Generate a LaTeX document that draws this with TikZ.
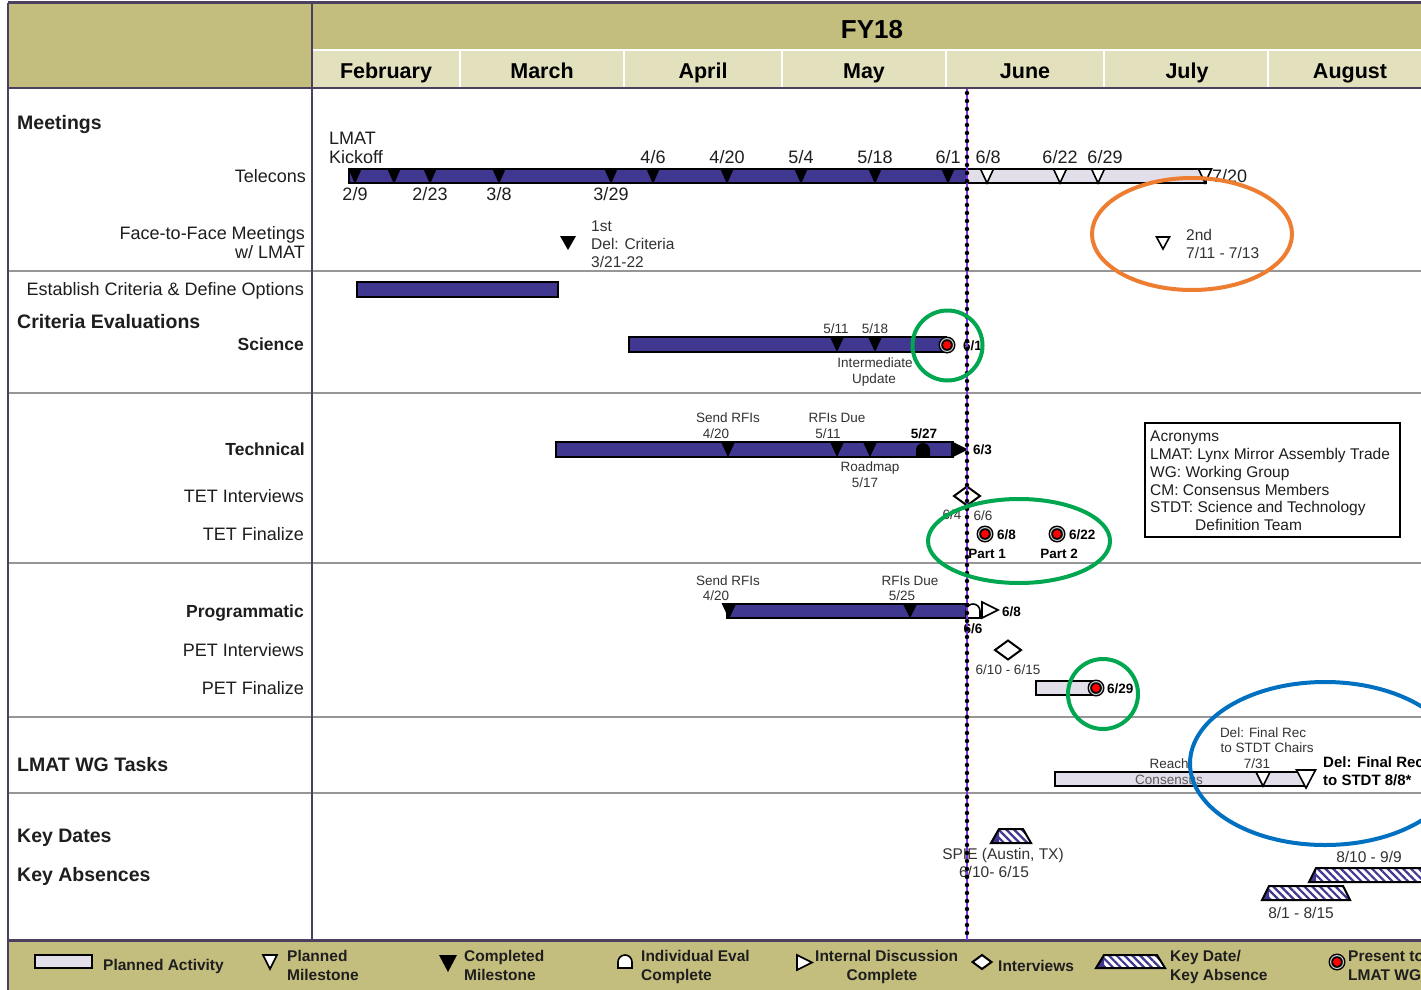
\documentclass[tikz,border=0pt]{standalone}
\usepackage{fontspec}
\setmainfont{Liberation Sans}
\usetikzlibrary{patterns.meta}
\definecolor{hdrolive}{RGB}{196,190,126}
\definecolor{monthc}{RGB}{227,224,190}
\definecolor{barc}{RGB}{64,55,145}
\definecolor{lightbar}{RGB}{226,222,234}
\definecolor{framec}{RGB}{75,65,95}
\definecolor{sepc}{RGB}{150,150,150}
\definecolor{todayc}{RGB}{140,50,230}
\definecolor{orangec}{RGB}{237,125,49}
\definecolor{greenc}{RGB}{0,166,80}
\definecolor{bluec}{RGB}{0,112,192}
\definecolor{txt}{RGB}{30,30,30}
\definecolor{txts}{RGB}{50,50,50}
\tikzset{
  every node/.style={inner sep=0pt, text=txt},
  L/.style={font=\fontsize{18}{19}\selectfont, yshift=-4pt},
  LB/.style={font=\bfseries\fontsize{17.5}{19}\selectfont, yshift=-4pt},
  H/.style={font=\bfseries\fontsize{19.5}{21}\selectfont, yshift=-4.5pt},
  MON/.style={font=\bfseries\fontsize{21.5}{23}\selectfont, text=black, yshift=-5pt},
  S/.style={font=\fontsize{13.5}{16}\selectfont, text=txts, yshift=-3pt},
  SB/.style={font=\bfseries\fontsize{13.5}{16}\selectfont, text=black, yshift=-3pt},
  M/.style={font=\fontsize{15.5}{18}\selectfont, text=txts, yshift=-3.5pt},
  MB/.style={font=\bfseries\fontsize{15}{18}\selectfont, text=black, yshift=-3.5pt},
  G/.style={font=\bfseries\fontsize{15.5}{19}\selectfont, text=txt, yshift=-4pt},
  bar/.style={draw=black, line width=2pt, fill=barc},
  pbar/.style={draw=black, line width=2pt, fill=lightbar},
  sepline/.style={draw=sepc, line width=2.5pt},
  opens/.style={fill=white, draw=black, line width=1.6pt, line join=miter},
  ring/.style={draw, line width=4pt},
}
\newcommand\dtri[4]{\fill[black] ({#1-#4},#2) -- ({#1+#4},#2) -- (#1,#3) -- cycle;}
\newcommand\otri[4]{\filldraw[opens] ({#1-#4},#2) -- ({#1+#4},#2) -- (#1,#3) -- cycle;}
\newcommand\presentmark[2]{%
  \fill[black] (#1,#2) circle[radius=8.5];
  \fill[white!80!black] (#1,#2) circle[radius=7];
  \fill[black] (#1,#2) circle[radius=5.8];
  \fill[red] (#1,#2) circle[radius=4];}
\newcommand\odiam[4]{\filldraw[fill=white, draw=black, line width=2pt] ({#1-#3},#2) -- (#1,{#2-#4}) -- ({#1+#3},#2) -- (#1,{#2+#4}) -- cycle;}
\newcommand\keytrap[5]{%
  \fill[white] (#1,#5) -- ({#1+#3},#4) -- ({#2-#3},#4) -- (#2,#5) -- cycle;
  \fill[pattern={Lines[angle=-45,distance=5.5pt,line width=2.2pt]}, pattern color=barc] (#1,#5) -- ({#1+#3},#4) -- ({#2-#3},#4) -- (#2,#5) -- cycle;
  \fill[barc] (#1,#5) -- ({#1+#3},#4) -- ({#1+#3},#5) -- cycle;
  \draw[black, line width=2pt, line join=miter] (#1,#5) -- ({#1+#3},#4) -- ({#2-#3},#4) -- (#2,#5) -- cycle;}
\begin{document}
\begin{tikzpicture}[x=1pt,y=-1pt]
\useasboundingbox (0,0) rectangle (1421,990);
\fill[white] (0,0) rectangle (1421,990);
% header
\fill[hdrolive] (8,3) rectangle (1421,88);
\fill[monthc] (312,50) rectangle (1421,88);
\draw[white, line width=2pt] (312,50) -- (1421,50);
\foreach \mx in {460,624,782,946,1104,1268} {\draw[white, line width=2pt] (\mx,50) -- (\mx,88);}
\node[font=\bfseries\fontsize{26}{28}\selectfont, text=black, anchor=mid, yshift=-6.5pt] (fy) at (872,29) {FY18};
\node[MON, anchor=mid] (feb) at (386,71) {February};
\node[MON, anchor=mid] (mar) at (542,71) {March};
\node[MON, anchor=mid] (apr) at (703,71) {April};
\node[MON, anchor=mid] (may) at (864,71) {May};
\node[MON, anchor=mid] (jun) at (1025,71) {June};
\node[MON, anchor=mid] (jul) at (1187,71) {July};
\node[MON, anchor=mid] (aug) at (1350,71) {August};
% legend background
\fill[hdrolive] (8,940) rectangle (1421,990);
% separators
\foreach \sy in {271,393,563,717,793} {\draw[sepline] (8,\sy) -- (1421,\sy);}
% frame
\draw[framec, line width=3pt] (8,3) -- (1421,3);
\draw[framec, line width=2.5pt] (8,88) -- (1421,88);
\draw[framec, line width=3pt] (8,940) -- (1421,940);
\draw[framec, line width=2pt] (8,3) -- (8,990);
\draw[framec, line width=2pt] (312,3) -- (312,940);

% ---------- Meetings
\node[H, anchor=mid west] (meet) at (17,122) {Meetings};
\node[L, anchor=mid west] (lmat) at (329,138) {LMAT};
\node[L, anchor=mid west] (kick) at (329,157) {Kickoff};
\node[L, anchor=mid east] (tel) at (306,176) {Telecons};
\fill[barc] (349,169) rectangle (967,183);
\fill[lightbar] (967,169) rectangle (1206,183);
\draw[black, line width=2pt] (349,169) rectangle (1206,183);
\foreach \tx in {355,394,430,499,611,653,727,801,875,948} {\dtri{\tx}{168}{184}{7}}
\foreach \tx in {987,1060,1098,1205} {\otri{\tx}{169}{183}{6.5}}
\node[L, anchor=mid] (d46) at (653,157) {4/6};
\node[L, anchor=mid] (d420) at (727,157) {4/20};
\node[L, anchor=mid] (d54) at (801,157) {5/4};
\node[L, anchor=mid] (d518) at (875,157) {5/18};
\node[L, anchor=mid] (d61) at (948,157) {6/1};
\node[L, anchor=mid] (d68) at (988,157) {6/8};
\node[L, anchor=mid] (d622) at (1060,157) {6/22};
\node[L, anchor=mid] (d629) at (1105,157) {6/29};
\node[L, anchor=mid west] (d720) at (1212,176) {7/20};
\node[L, anchor=mid] (d29) at (355,194) {2/9};
\node[L, anchor=mid] (d223) at (430,194) {2/23};
\node[L, anchor=mid] (d38) at (499,194) {3/8};
\node[L, anchor=mid] (d329) at (611,194) {3/29};
\node[L, anchor=mid east] (f2f) at (305,233) {Face-to-Face Meetings};
\node[L, anchor=mid east] (wl) at (305,252) {w/ LMAT};
\dtri{568}{236}{250}{8}
\node[M, anchor=mid west] (first) at (591,225) {1st};
\node[M, anchor=mid west] (delc) at (591,243) {Del: Criteria};
\node[M, anchor=mid west] (d321) at (591,261) {3/21-22};
\otri{1163}{237}{249}{6.5}
\node[M, anchor=mid west] (second) at (1186,234) {2nd};
\node[M, anchor=mid west] (d711) at (1186,252) {7/11 - 7/13};

% ---------- Criteria
\node[L, anchor=mid east] (est) at (304,289) {Establish Criteria \& Define Options};
\node[H, anchor=mid west] (crit) at (17,321) {Criteria Evaluations};
\node[LB, anchor=mid east] (sci) at (304,344) {Science};
\draw[bar] (357,282) rectangle (558,297);
\draw[bar] (629,337) rectangle (946,352);
\dtri{837}{337}{352}{7}
\dtri{875}{337}{352}{7}
\node[S, anchor=mid] (s511) at (836,328) {5/11};
\node[S, anchor=mid] (s518) at (875,328) {5/18};
\presentmark{947}{345}
\node[SB, anchor=mid west] (s61) at (963,345) {6/1};
\node[S, anchor=mid] (inter) at (875,362) {Intermediate};
\node[S, anchor=mid] (upd) at (874,378) {Update};

% ---------- Technical
\node[LB, anchor=mid east] (tech) at (305,449) {Technical};
\node[L, anchor=mid east] (teti) at (304,496) {TET Interviews};
\node[L, anchor=mid east] (tetf) at (304,534) {TET Finalize};
\draw[bar] (556,442) rectangle (953,457);
\dtri{728}{442}{457}{7}
\dtri{837}{442}{457}{7}
\dtri{870}{442}{457}{7}
\fill[black] (916,457) -- (916,450) arc[start angle=180, end angle=360, radius=7] -- (930,457) -- cycle;
\fill[black] (951,441) -- (968,449.5) -- (951,458) -- cycle;
\node[SB, anchor=mid west] (t63) at (973,449) {6/3};
\node[S, anchor=mid] (tsend) at (728,417) {Send RFIs};
\node[S, anchor=mid] (t420) at (716,433) {4/20};
\node[S, anchor=mid] (tdue) at (837,417) {RFIs Due};
\node[S, anchor=mid] (t511) at (828,433) {5/11};
\node[SB, anchor=mid] (t527) at (924,433) {5/27};
\node[S, anchor=mid] (road) at (870,466) {Roadmap};
\node[S, anchor=mid] (t517) at (865,482) {5/17};
\odiam{967}{496}{13}{9.5}
\node[S, anchor=mid] (t64) at (952,514) {6/4};
\node[S, anchor=mid] (t66) at (983,515) {6/6};
\presentmark{985}{534}
\presentmark{1057}{534}
\node[SB, anchor=mid west] (t68) at (997,534) {6/8};
\node[SB, anchor=mid west] (t622) at (1069,534) {6/22};
\node[SB, anchor=mid] (p1) at (987,553) {Part 1};
\node[SB, anchor=mid] (p2) at (1059,553) {Part 2};
% acronyms
\fill[white] (1145,423) rectangle (1400,537);
\begin{scope}
\clip (1146,424) rectangle (1398,536);
\node[M, text=txt, anchor=mid west] (ac0) at (1150,435) {Acronyms};
\node[M, text=txt, anchor=mid west] (ac1) at (1150,453) {LMAT: Lynx Mirror Assembly Trade};
\node[M, text=txt, anchor=mid west] (ac2) at (1150,471) {WG: Working Group};
\node[M, text=txt, anchor=mid west] (ac3) at (1150,489) {CM: Consensus Members};
\node[M, text=txt, anchor=mid west] (ac4) at (1150,506) {STDT: Science and Technology};
\node[M, text=txt, anchor=mid west] (ac5) at (1195,524) {Definition Team};
\end{scope}
\draw[black, line width=2.5pt] (1145,423) rectangle (1400,537);

% ---------- Programmatic
\node[LB, anchor=mid east] (prog) at (304,611) {Programmatic};
\node[L, anchor=mid east] (peti) at (304,650) {PET Interviews};
\node[L, anchor=mid east] (petf) at (304,688) {PET Finalize};
\draw[bar] (727,604) rectangle (968,618);
\dtri{729}{603}{619}{7.5}
\dtri{910}{604}{618}{7}
\filldraw[opens] (966,618) -- (966,611) arc[start angle=180, end angle=360, radius=7] -- (980,618) -- cycle;
\filldraw[opens] (982,602) -- (998,610) -- (982,618) -- cycle;
\node[SB, anchor=mid west] (p68) at (1002,611) {6/8};
\node[SB, anchor=mid] (p66) at (973,628) {6/6};
\node[S, anchor=mid] (psend) at (728,580) {Send RFIs};
\node[S, anchor=mid] (p420) at (716,595) {4/20};
\node[S, anchor=mid] (pdue) at (910,580) {RFIs Due};
\node[S, anchor=mid] (p525) at (902,595) {5/25};
\odiam{1008}{650}{13}{9.5}
\node[S, anchor=mid] (p610) at (1008,669) {6/10 - 6/15};
\draw[pbar] (1036,681) rectangle (1096,695);
\presentmark{1096}{688}
\node[SB, anchor=mid west] (p629) at (1107,688) {6/29};

% ---------- LMAT WG Tasks
\node[H, anchor=mid west] (wg) at (17,764) {LMAT WG Tasks};
\draw[pbar] (1055,772) rectangle (1307,786);
\node[S, anchor=mid] (reach) at (1169,763) {Reach};
\node[S, anchor=mid, text=black!65] (cons) at (1169,779) {Consensus};
\otri{1263}{772}{786}{7}
\otri{1306}{770}{788}{9.5}
\node[S, anchor=mid] (wdel) at (1263,732) {Del: Final Rec};
\node[S, anchor=mid] (wchair) at (1267,747) {to STDT Chairs};
\node[S, anchor=mid] (w731) at (1257,763) {7/31};
\node[MB, anchor=mid west] (wdel2) at (1323,761) {Del: Final Rec};
\node[MB, anchor=mid west] (w88) at (1323,779) {to STDT 8/8*};

% ---------- Key dates
\node[H, anchor=mid west] (kd) at (17,835) {Key Dates};
\node[H, anchor=mid west] (ka) at (17,874) {Key Absences};
\keytrap{991}{1031}{8}{829}{843}
\node[M, anchor=mid] (spie) at (1003,853) {SPIE (Austin, TX)};
\node[M, anchor=mid] (spied) at (994,871) {6/10- 6/15};
\keytrap{1309}{1470}{7}{868}{882}
\node[M, anchor=mid] (k810) at (1369,856) {8/10 - 9/9};
\keytrap{1262}{1350}{7}{886}{900}
\node[M, anchor=mid] (k81) at (1301,912) {8/1 - 8/15};

% ---------- Legend
\draw[pbar, line width=1.8pt] (35,955) rectangle (92,968);
\node[G, anchor=mid west] (lg1) at (103,964) {Planned Activity};
\otri{270}{955}{969}{7}
\node[G, anchor=mid west] (lg2a) at (287,955) {Planned};
\node[G, anchor=mid west] (lg2b) at (287,974) {Milestone};
\dtri{448}{955}{972}{9}
\node[G, anchor=mid west] (lg3a) at (464,955) {Completed};
\node[G, anchor=mid west] (lg3b) at (464,974) {Milestone};
\filldraw[opens] (618,968) -- (618,962) arc[start angle=180, end angle=360, radius=7] -- (632,968) -- cycle;
\node[G, anchor=mid west] (lg4a) at (641,955) {Individual Eval};
\node[G, anchor=mid west] (lg4b) at (641,974) {Complete};
\filldraw[opens] (797,955) -- (812,962.5) -- (797,970) -- cycle;
\node[G, anchor=mid west] (lg5a) at (815,955) {Internal Discussion};
\node[G, anchor=mid] (lg5b) at (882,974) {Complete};
\odiam{982}{962}{9.5}{7}
\node[G, anchor=mid west] (lg6) at (998,965) {Interviews};
\keytrap{1096}{1165}{8}{955}{968}
\node[G, anchor=mid west] (lg7a) at (1170,955) {Key Date/};
\node[G, anchor=mid west] (lg7b) at (1170,974) {Key Absence};
\presentmark{1337}{962}
\node[G, anchor=mid west] (lg8a) at (1348,955) {Present to};
\node[G, anchor=mid west] (lg8b) at (1348,974) {LMAT WG};

% ---------- today line
\draw[todayc, line width=1.5pt] (967,89) -- (967,940);
\draw[black, line width=4.5pt, line cap=round, dash pattern=on 0pt off 8pt] (967,93) -- (967,938);

% ---------- highlight rings
\draw[ring, orangec] (1192,234) ellipse[x radius=100, y radius=56];
\draw[ring, greenc] (947.5,345.5) circle[radius=35];
\draw[ring, greenc] (1019,541) ellipse[x radius=91, y radius=42];
\draw[ring, greenc] (1103,694) circle[radius=35];
\draw[ring, bluec] (1325,763.5) ellipse[x radius=135, y radius=81.5];
\end{tikzpicture}
\end{document}
